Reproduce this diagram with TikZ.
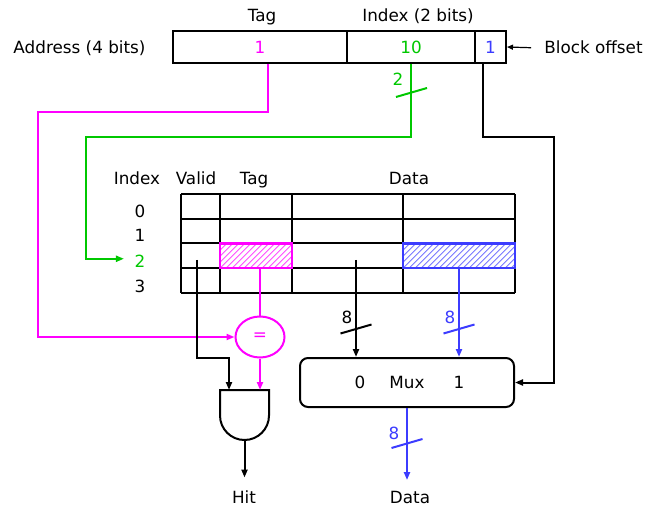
\documentclass[tikz,border=0pt]{standalone}
\usepackage{fontspec}
\setmainfont{DejaVu Sans}
\usepackage{xcolor}
\usepackage{tikz}
\usetikzlibrary{positioning}
\usetikzlibrary{arrows.meta,shapes.geometric}
\definecolor{tagpink}{RGB}{255,0,255}
\definecolor{idxgreen}{RGB}{0,200,0}
\definecolor{offblue}{RGB}{60,60,255}

\begin{document}
\begin{tikzpicture}[x=1pt, y=-1pt,
		every node/.style={font=\fontsize{16.8}{20}\selectfont},
		lbl/.style={anchor=base, inner sep=0pt},
		field/.style={draw, line width=2pt, minimum height=32pt, inner sep=0pt},
		wire/.style={line width=2pt},
		arr/.style={wire, -{Triangle[length=8pt,width=6pt]}},
		hatch/.style={draw, line width=2.4pt, minimum height=24.75pt, inner sep=0pt},
		buscut/.pic={\draw[line width=2pt] (-15.5pt,-4.5pt) -- (15.5pt,4.5pt);}]
	\useasboundingbox (0,0) rectangle (647,510);
	% address
	\node [field, minimum width=174pt, text=tagpink] (tagf) at (260,47) {1};
	\node [field, minimum width=128pt, text=idxgreen] (indexf) at (411,47) {10};
	\node [field, minimum width=31pt, text=offblue] (offf) at (490.5,47) {1};
	\node [lbl] (addr) at (79.5,54) {Address (4 bits)};
	\node [lbl] (tagtop) at (262,22) {Tag};
	\node [lbl] (indextop) at (418,22) {Index (2 bits)};
	\node [lbl] (bolbl) at (593.5,54) {Block offset};
	\draw [line width=1.2pt, -{Triangle[length=6pt,width=5pt]}] ([xshift=-13pt]bolbl.west) -- (offf.east);
	% cache table
	\foreach \y in {194,218.75,243.5,268.25,293}
		\draw [wire] (181,\y) -- (515,\y);
	\foreach \x in {181,220,292,403,515}
		\draw [wire] (\x,194) -- (\x,293);
	\begin{scope}
		\clip (220,243.5) rectangle (292,268.25);
		\foreach \i in {-30,-24,...,80}
			\draw [tagpink!70, line width=0.9pt] (220+\i,268.25) -- ++(25,-25);
	\end{scope}
	\begin{scope}
		\clip (403,243.5) rectangle (515,268.25);
		\foreach \i in {-30,-24,...,120}
			\draw [offblue!70, line width=0.9pt] (403+\i,268.25) -- ++(25,-25);
	\end{scope}
	\node [hatch, draw=tagpink, minimum width=72pt] (tagcell) at (256,255.9) {};
	\node [hatch, draw=offblue, minimum width=112pt] (datacell) at (459,255.9) {};
	\node [lbl] (hidx) at (137,185) {Index};
	\node [lbl] (hvalid) at (196,185) {Valid};
	\node [lbl] (htag) at (254,185) {Tag};
	\node [lbl] (hdata) at (409,185) {Data};
	\node [lbl] (idx0) at (140,218) {0};
	\node [lbl] (idx1) at (140,242) {1};
	\node [lbl, text=idxgreen] (idx2) at (140,268) {2};
	\node [lbl] (idx3) at (140,292) {3};
	% comparator, gate, mux
	\node [ellipse, draw=tagpink, line width=2pt, minimum width=49pt, minimum height=41pt,
		inner sep=0pt, text=tagpink] (eq) at (260,337) {=};
	\draw [wire] (220,390) -- (269,390) -- (269,415.5)
		arc [start angle=0, end angle=-180, radius=24.5pt] -- cycle;
	\coordinate (andin1) at (229,390);
	\coordinate (andin2) at (260,390);
	\coordinate (andout) at (244.5,440);
	\node [draw, line width=2pt, rounded corners=8pt, minimum width=214pt,
		minimum height=49pt] (mux) at (407,382.5) {};
	\node [lbl] (mux0) at (360,388) {0};
	\node [lbl] (muxlbl) at (407,388) {Mux};
	\node [lbl] (mux1) at (459,388) {1};
	\node [lbl] (hit) at (244,503) {Hit};
	\node [lbl] (dataout) at (410,503) {Data};
	% taps and bends
	\coordinate (ttap) at ([xshift=8pt]tagf.south);
	\coordinate (tbend) at (38,112);
	\coordinate (gbend) at (86,137);
	\coordinate (otap) at ([xshift=-7.5pt]offf.south);
	\coordinate (obend) at (554,137);
	\coordinate (vtap) at (197,260);
	\coordinate (vbend) at (229,358);
	\coordinate (dtap) at (356,260);
	% wires
	\draw [arr, tagpink] (ttap) |- (tbend) |- (eq.west);
	\draw [arr, idxgreen, shorten >=10.5pt] (indexf.south) |- (gbend) |- ([yshift=3pt]idx2.west);
	\draw [arr] (otap) |- (obend) |- (mux.east);
	\draw [wire, tagpink] (eq.north |- tagcell.south) -- (eq.north);
	\draw [arr, tagpink] (eq.south) -- (andin2);
	\draw [arr] (vtap) |- (vbend) -- (andin1);
	\draw [arr, shorten >=12.5pt] (andout) -- (andout |- hit.north);
	\draw [arr] (dtap) -- (dtap |- mux.north);
	\draw [arr, offblue] (datacell.south) -- (datacell.south |- mux.north);
	\draw [arr, offblue, shorten >=10.5pt] (mux.south) -- (mux.south |- dataout.north);
	% bus widths
	\pic [idxgreen] at (411.5,92.5) {buscut};
	\node [lbl, text=idxgreen] (w2) at (398,86) {2};
	\pic at (356,329) {buscut};
	\node [lbl] (w8a) at (347,323) {8};
	\pic [offblue] at (459,329) {buscut};
	\node [lbl, text=offblue] (w8b) at (450,323) {8};
	\pic [offblue] at (407,443.5) {buscut};
	\node [lbl, text=offblue] (w8c) at (394,439) {8};
\end{tikzpicture}
\end{document}
